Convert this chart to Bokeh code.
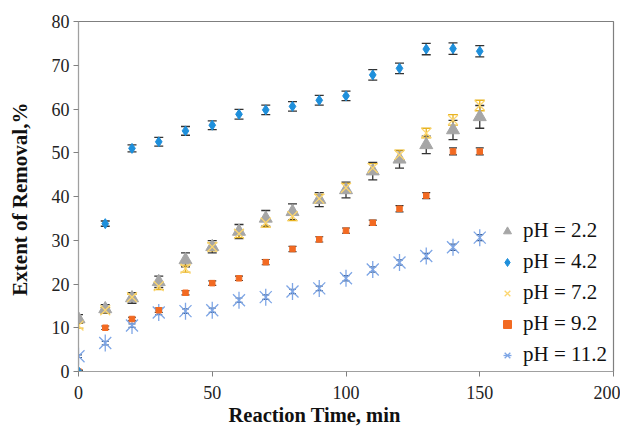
from bokeh.plotting import figure
from bokeh.models import ColumnDataSource, Whisker, TeeHead, Legend, LegendItem, Range1d, FixedTicker, Title
from bokeh.embed import file_html
from bokeh.resources import INLINE
import math

time = [0, 10, 20, 30, 40, 50, 60, 70, 80, 90, 100, 110, 120, 130, 140, 150]

ph22 = [12.0, 14.3, 16.8, 20.5, 25.5, 28.5, 32.0, 35.0, 36.5, 39.3, 41.5, 45.8, 48.5, 51.8, 55.2, 58.2]
ph22_err = [1.0, 1.0, 1.2, 1.3, 1.6, 1.4, 1.6, 1.8, 1.8, 1.6, 1.8, 2.0, 2.0, 2.0, 2.2, 2.6]

ph42 = [0.0, 33.8, 51.0, 52.5, 55.0, 56.3, 58.8, 59.8, 60.6, 62.0, 63.0, 67.8, 69.3, 73.7, 73.8, 73.2]
ph42_err = [0.3, 0.6, 0.8, 1.0, 1.0, 1.0, 1.1, 1.1, 1.1, 1.1, 1.1, 1.2, 1.2, 1.3, 1.3, 1.3]

ph72 = [10.5, 14.0, 17.0, 19.5, 23.5, 28.5, 31.5, 34.0, 35.5, 39.5, 42.0, 46.5, 49.5, 54.5, 57.5, 60.8]
ph72_err = [0.6, 0.6, 0.7, 0.8, 0.8, 0.9, 0.9, 1.0, 1.0, 1.0, 1.0, 1.0, 1.1, 1.1, 1.2, 1.2]

ph92 = [0.0, 10.0, 12.0, 14.0, 18.0, 20.2, 21.3, 25.0, 28.0, 30.2, 32.2, 34.0, 37.2, 40.2, 50.3, 50.3]
ph92_err = [0.2, 0.4, 0.4, 0.5, 0.5, 0.5, 0.5, 0.6, 0.6, 0.6, 0.6, 0.6, 0.7, 0.7, 0.8, 0.8]

ph112 = [3.5, 6.5, 10.5, 13.5, 13.8, 14.0, 16.3, 17.0, 18.3, 19.0, 21.3, 23.3, 24.9, 26.4, 28.4, 30.6]
ph112_err = [0.3, 0.4, 0.4, 0.5, 0.5, 0.5, 0.5, 0.5, 0.5, 0.5, 0.6, 0.6, 0.6, 0.6, 0.7, 0.7]

labels = ["pH = 2.2", "pH = 4.2", "pH = 7.2", "pH = 9.2", "pH = 11.2"]
x_title = "Reaction Time, min"
y_title = "Extent of  Removal,%"

FONT = "Liberation Serif"

p = figure(width=620, height=432, output_backend="svg", toolbar_location=None,
           x_range=Range1d(0, 200), y_range=Range1d(0, 80),
           min_border_left=78, min_border_right=7, min_border_top=21, min_border_bottom=61)
p.xgrid.visible = False
p.ygrid.visible = False
p.outline_line_color = "#7f7f7f"
p.outline_line_width = 1.2
p.background_fill_color = "white"
p.border_fill_color = "white"

for ax in (p.xaxis[0], p.yaxis[0]):
    ax.axis_line_color = "#a0a0a0"
    ax.major_tick_line_color = "#808080"
    ax.minor_tick_line_color = None
    ax.major_tick_out = 5
    ax.major_tick_in = 0
    ax.major_label_text_font = FONT
    ax.major_label_text_font_size = "18px"
    ax.major_label_text_color = "#222222"
    ax.axis_label_text_font = FONT
    ax.axis_label_text_font_size = "21px"
    ax.axis_label_text_font_style = "bold"
    ax.axis_label_text_color = "#111111"

p.xaxis.ticker = FixedTicker(ticks=[0, 50, 100, 150, 200])
p.yaxis.ticker = FixedTicker(ticks=[0, 10, 20, 30, 40, 50, 60, 70, 80])
p.yaxis.axis_label = y_title
p.xaxis.major_label_standoff = 9
p.yaxis.major_label_standoff = 4
p.yaxis.axis_label_standoff = 17

xt = Title(text=x_title, align="left", offset=150, standoff=0,
           text_font=FONT, text_font_size="20.5px", text_font_style="bold", text_color="#111111")
p.add_layout(xt, "below")


def add_err(vals, errs, color, head=8, width=1.3):
    src = ColumnDataSource(dict(x=time, lo=[v - e for v, e in zip(vals, errs)],
                                hi=[v + e for v, e in zip(vals, errs)]))
    w = Whisker(source=src, base="x", upper="hi", lower="lo", line_color=color, line_width=width,
                upper_head=TeeHead(size=head, line_color=color, line_width=width),
                lower_head=TeeHead(size=head, line_color=color, line_width=width))
    p.add_layout(w)


# pH 11.2 asterisk
c112 = "#7ea6e6"
r112a = p.scatter(time, ph112, marker="x", size=17, line_color=c112, line_width=1.3)
r112b = p.scatter(time, ph112, marker="dash", angle=math.pi / 2, size=17, line_color=c112, line_width=1.3)
add_err(ph112, ph112_err, "#3a5a8a", head=7, width=1.2)

# pH 9.2 squares
c92 = "#f26a22"
add_err(ph92, ph92_err, "#333333", head=8, width=1.2)
r92 = p.scatter(time, ph92, marker="square", size=5.5, fill_color=c92, line_color=c92)

# pH 2.2 triangles
c22 = "#a6a6a6"
add_err(ph22, ph22_err, "#333333", head=9, width=1.3)
r22 = p.scatter(time, ph22, marker="triangle", size=13, fill_color=c22, line_color=c22)

# pH 7.2 x
add_err(ph72, ph72_err, "#e8b321", head=10, width=1.3)
r72 = p.scatter(time, ph72, marker="x", size=14, line_color="#fcd66e", line_width=1.3)

# pH 4.2 diamonds
c42 = "#1e8fdb"
add_err(ph42, ph42_err, "#333333", head=9, width=1.3)
r42 = p.scatter(time, ph42, marker="diamond", size=10, fill_color=c42, line_color=c42)

legend = Legend(items=[
    LegendItem(label=labels[0], renderers=[r22]),
    LegendItem(label=labels[1], renderers=[r42]),
    LegendItem(label=labels[2], renderers=[r72]),
    LegendItem(label=labels[3], renderers=[r92]),
    LegendItem(label=labels[4], renderers=[r112a, r112b]),
], location=(419, 4))
legend.label_text_font = FONT
legend.label_text_font_size = "21px"
legend.label_text_color = "#111111"
legend.glyph_width = 20
legend.glyph_height = 24
legend.label_height = 24
legend.spacing = 6
legend.padding = 0
legend.margin = 0
legend.label_standoff = 6
legend.border_line_color = None
legend.background_fill_alpha = 0
p.add_layout(legend)

open("out.html", "w").write(file_html(p, INLINE))
